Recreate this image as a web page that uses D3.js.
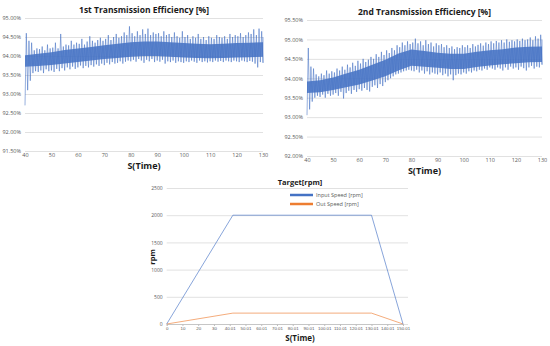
<!DOCTYPE html>
<html>
<head>
<meta charset="utf-8">
<script src="https://cdn.jsdelivr.net/npm/d3@7"></script>
<style>
  body { margin: 0; background: #fff; }
  text { font-family: "Open Sans", "Noto Sans", sans-serif; }
  .tick text { fill: #595959; }
  .grid line { stroke: #d9d9d9; stroke-width: 0.8; }
</style>
</head>
<body>
<svg id="chart" width="550" height="346"></svg>
<script>
// time axis (seconds) for both efficiency charts, one sample pair per second
var secs = d3.range(40, 131);
var effTicksX = [40, 50, 60, 70, 80, 90, 100, 110, 120, 130];
var eff1TicksY = [91.5, 92, 92.5, 93, 93.5, 94, 94.5, 95];
var eff2TicksY = [92, 92.5, 93, 93.5, 94, 94.5, 95, 95.5];

// 1st efficiency: spike high / low per second
var eff1Hi = [94.60,94.40,94.35,94.15,94.20,94.18,94.25,94.15,94.30,94.20,
  94.22,94.35,94.20,94.58,94.25,94.30,94.28,94.40,94.30,94.35,
  94.32,94.45,94.30,94.38,94.52,94.40,94.35,94.42,94.48,94.40,
  94.45,94.55,94.42,94.50,94.58,94.48,94.52,94.62,94.55,94.78,
  94.60,94.52,94.65,94.55,94.70,94.58,94.72,94.55,94.62,94.58,
  94.60,94.52,94.65,94.55,94.58,94.50,94.62,94.52,94.48,94.65,
  94.50,94.55,94.45,94.52,94.48,94.58,94.45,94.50,94.42,94.52,
  94.48,94.45,94.55,94.50,94.48,94.52,94.45,94.58,94.50,94.55,
  94.52,94.60,94.50,94.55,94.62,94.58,94.70,94.55,94.72,94.65,94.50];
var eff1Lo = [92.70,93.10,93.35,93.55,93.60,93.58,93.62,93.55,93.65,93.60,
  93.62,93.58,93.66,93.60,93.68,93.62,93.70,93.65,93.72,93.66,
  93.70,93.75,93.68,93.74,93.70,93.76,93.72,93.78,93.74,93.80,
  93.76,93.82,93.78,93.84,93.80,93.82,93.86,93.80,93.85,93.88,
  93.86,93.90,93.85,93.92,93.88,93.82,93.90,93.86,93.92,93.84,
  93.88,93.85,93.90,93.80,93.86,93.84,93.88,93.82,93.86,93.84,
  93.82,93.86,93.84,93.88,93.85,93.82,93.88,93.84,93.86,93.83,
  93.86,93.84,93.88,93.85,93.87,93.84,93.88,93.86,93.84,93.88,
  93.86,93.84,93.88,93.86,93.84,93.87,93.85,93.80,93.70,93.84,93.82];
// dense core band, every 5 s
var coreSecs = d3.range(40, 131, 5);
var eff1CoreLo = [93.72,93.74,93.76,93.80,93.84,93.88,93.92,93.95,93.98,94.00,94.00,93.98,93.96,93.95,93.94,93.95,93.96,93.97,93.98];
var eff1CoreHi = [94.02,94.06,94.10,94.16,94.20,94.24,94.28,94.32,94.36,94.38,94.38,94.36,94.34,94.32,94.31,94.32,94.34,94.35,94.36];

// 2nd efficiency
var eff2Hi = [94.78,94.30,94.25,94.10,94.05,94.12,94.08,94.20,94.12,94.18,
  94.15,94.25,94.20,94.30,94.22,94.35,94.28,94.40,94.32,94.45,
  94.38,94.50,94.42,94.48,94.55,94.50,94.62,94.55,94.68,94.60,
  94.72,94.65,94.78,94.72,94.85,94.80,94.92,94.85,94.95,94.88,
  94.92,95.02,94.90,94.95,94.85,94.98,94.88,94.92,94.82,94.90,
  94.85,94.88,94.80,94.85,94.78,94.82,94.75,94.80,94.78,94.85,
  94.80,94.85,94.78,94.88,94.82,94.86,94.90,94.84,94.92,94.88,
  94.95,94.90,94.96,94.92,94.98,94.92,95.00,94.94,94.98,94.95,
  95.00,94.96,95.02,94.98,95.00,95.05,94.98,95.08,95.02,95.12,95.00];
var eff2Lo = [93.05,93.20,93.40,93.50,93.55,93.52,93.58,93.50,93.60,93.55,
  93.58,93.62,93.55,93.65,93.48,93.62,93.68,93.60,93.70,93.65,
  93.72,93.68,93.75,93.70,93.66,93.78,93.82,93.75,93.85,93.80,
  93.90,93.95,94.00,94.05,94.10,94.12,94.15,94.18,94.20,94.22,
  94.20,94.18,94.22,94.15,94.20,94.12,94.18,94.10,94.15,94.12,
  94.10,94.15,94.08,94.12,94.05,94.10,93.95,94.08,94.12,94.10,
  94.15,94.12,94.18,94.15,94.20,94.18,94.22,94.20,94.25,94.22,
  94.28,94.25,94.22,94.28,94.25,94.20,94.28,94.22,94.30,94.25,
  94.28,94.22,94.30,94.26,94.20,94.28,94.32,94.25,94.30,94.28,94.35];
var eff2CoreLo = [93.62,93.64,93.70,93.77,93.84,93.94,94.05,94.20,94.32,94.30,94.27,94.24,94.24,94.29,94.33,94.36,94.39,94.41,94.42];
var eff2CoreHi = [93.92,93.95,94.02,94.12,94.22,94.35,94.48,94.64,94.74,94.70,94.66,94.63,94.63,94.68,94.72,94.75,94.79,94.81,94.82];

// target speed chart
var speedTicksX = [0, 10, 20, 30, 40.01, 50.01, 60.01, 70.01, 80.01, 90.01, 100.01, 110.01, 120.01, 130.01, 140.01, 150.01];
var speedTicksY = [0, 500, 1000, 1500, 2000, 2500];
var speedTime = [0, 42, 130.01, 150.01];
var inputSpeed = [0, 2000, 2000, 0];
var outSpeed = [0, 200, 200, 0];

var blue = "#4472c4", orange = "#ed7d31";
var svg = d3.select("#chart");

function effChart(opt) {
  var x = d3.scaleLinear().domain([40, 130]).range([opt.left, opt.right]);
  var y = d3.scaleLinear().domain(opt.yDomain).range([opt.bottom, opt.top]);
  var g = svg.append("g");

  g.append("g").attr("class", "grid")
    .attr("transform", "translate(" + opt.left + ",0)")
    .call(d3.axisLeft(y).tickValues(opt.yTicks).tickSize(-(opt.right - opt.left))
      .tickFormat(function(d) { return d.toFixed(2) + "%"; }))
    .call(function(a) {
      a.select(".domain").remove();
      a.selectAll("text").attr("font-size", 5.5).attr("x", -4);
    });

  g.append("g")
    .attr("transform", "translate(0," + opt.bottom + ")")
    .call(d3.axisBottom(x).tickValues(effTicksX).tickSize(0).tickPadding(2))
    .call(function(a) {
      a.select(".domain").remove();
      a.selectAll("text").attr("font-size", 5.5);
    });

  // dense core band (drawn first, spikes go over it)
  var core = coreSecs.map(function(t, i) { return [t, opt.coreLo[i], opt.coreHi[i]]; });
  g.append("path")
    .attr("d", d3.area()
      .x(function(d) { return x(d[0]); })
      .y0(function(d) { return y(d[1]); })
      .y1(function(d) { return y(d[2]); })(core))
    .attr("fill", blue).attr("opacity", 0.85);

  // spikes: zigzag through the low/high of each second
  var pts = [];
  secs.forEach(function(t, i) {
    pts.push([t, opt.lo[i]]);
    pts.push([Math.min(t + 0.5, 130), opt.hi[i]]);
  });
  g.append("path")
    .attr("d", d3.line().x(function(d) { return x(d[0]); }).y(function(d) { return y(d[1]); })(pts))
    .attr("fill", "none").attr("stroke", blue).attr("stroke-width", 0.8).attr("opacity", 0.7);

  g.append("text").attr("x", (opt.left + opt.right) / 2).attr("y", opt.top - 5)
    .attr("text-anchor", "middle").attr("font-size", 8.5).attr("font-weight", "bold")
    .attr("fill", "#1a1a1a").text(opt.title);
  g.append("text").attr("x", (opt.left + opt.right) / 2).attr("y", opt.bottom + 18)
    .attr("text-anchor", "middle").attr("font-size", 9).attr("font-weight", "bold")
    .attr("fill", "#1a1a1a").text("S(Time)");
}

effChart({ id: 1, left: 25, right: 263, top: 18, bottom: 151, yDomain: [91.5, 95],
  yTicks: eff1TicksY, hi: eff1Hi, lo: eff1Lo, coreLo: eff1CoreLo, coreHi: eff1CoreHi,
  title: "1st Transmission Efficiency [%]" });
effChart({ id: 2, left: 307, right: 542, top: 20, bottom: 156, yDomain: [92, 95.5],
  yTicks: eff2TicksY, hi: eff2Hi, lo: eff2Lo, coreLo: eff2CoreLo, coreHi: eff2CoreHi,
  title: "2nd Transmission Efficiency [%]" });

// speed chart
var sx = d3.scaleLinear().domain([0, 150.01]).range([166.7, 403]);
var sy = d3.scaleLinear().domain([0, 2500]).range([324, 188]);
var sg = svg.append("g");

sg.append("g").attr("class", "grid")
  .attr("transform", "translate(166.7,0)")
  .call(d3.axisLeft(sy).tickValues(speedTicksY).tickSize(-(408 - 166.7)).tickFormat(d3.format("d")))
  .call(function(a) {
    a.select(".domain").remove();
    a.selectAll("text").attr("font-size", 5).attr("x", -4);
  });
sg.append("g")
  .attr("transform", "translate(0,324)")
  .call(d3.axisBottom(sx).tickValues(speedTicksX).tickSize(2).tickPadding(1)
    .tickFormat(function(d) { return String(d); }))
  .call(function(a) {
    a.select(".domain").attr("stroke", "#bfbfbf").attr("stroke-width", 0.8);
    a.selectAll(".tick line").attr("stroke", "#bfbfbf");
    a.selectAll("text").attr("font-size", 4.4)
      .style("font-family", "'Liberation Sans', sans-serif");
  });

var speedLine = d3.line()
  .x(function(d) { return sx(d[0]); })
  .y(function(d) { return sy(d[1]); });
sg.append("path")
  .attr("d", speedLine(speedTime.map(function(t, i) { return [t, outSpeed[i]]; })))
  .attr("fill", "none").attr("stroke", orange).attr("stroke-width", 0.8).attr("opacity", 0.8);
sg.append("path")
  .attr("d", speedLine(speedTime.map(function(t, i) { return [t, inputSpeed[i]]; })))
  .attr("fill", "none").attr("stroke", blue).attr("stroke-width", 0.8).attr("opacity", 0.8);

sg.append("text").attr("x", 300).attr("y", 185).attr("text-anchor", "middle")
  .attr("font-size", 7.5).attr("font-weight", "bold").attr("fill", "#1a1a1a").text("Target[rpm]");
sg.append("text").attr("x", 300).attr("y", 341).attr("text-anchor", "middle")
  .attr("font-size", 8).attr("font-weight", "bold").attr("fill", "#1a1a1a").text("S(Time)");
sg.append("text").attr("transform", "translate(155,257) rotate(-90)").attr("text-anchor", "middle")
  .attr("font-size", 7.5).attr("font-weight", "bold").attr("fill", "#1a1a1a").text("rpm");

var legend = [["Input Speed [rpm]", blue], ["Out Speed [rpm]", orange]];
legend.forEach(function(l, i) {
  var ly = 195 + i * 9;
  sg.append("line").attr("x1", 290).attr("x2", 313).attr("y1", ly).attr("y2", ly)
    .attr("stroke", l[1]).attr("stroke-width", 2.5);
  sg.append("text").attr("x", 316).attr("y", ly + 2).attr("font-size", 5.5)
    .attr("fill", "#595959").text(l[0]);
});
</script>
</body>
</html>
